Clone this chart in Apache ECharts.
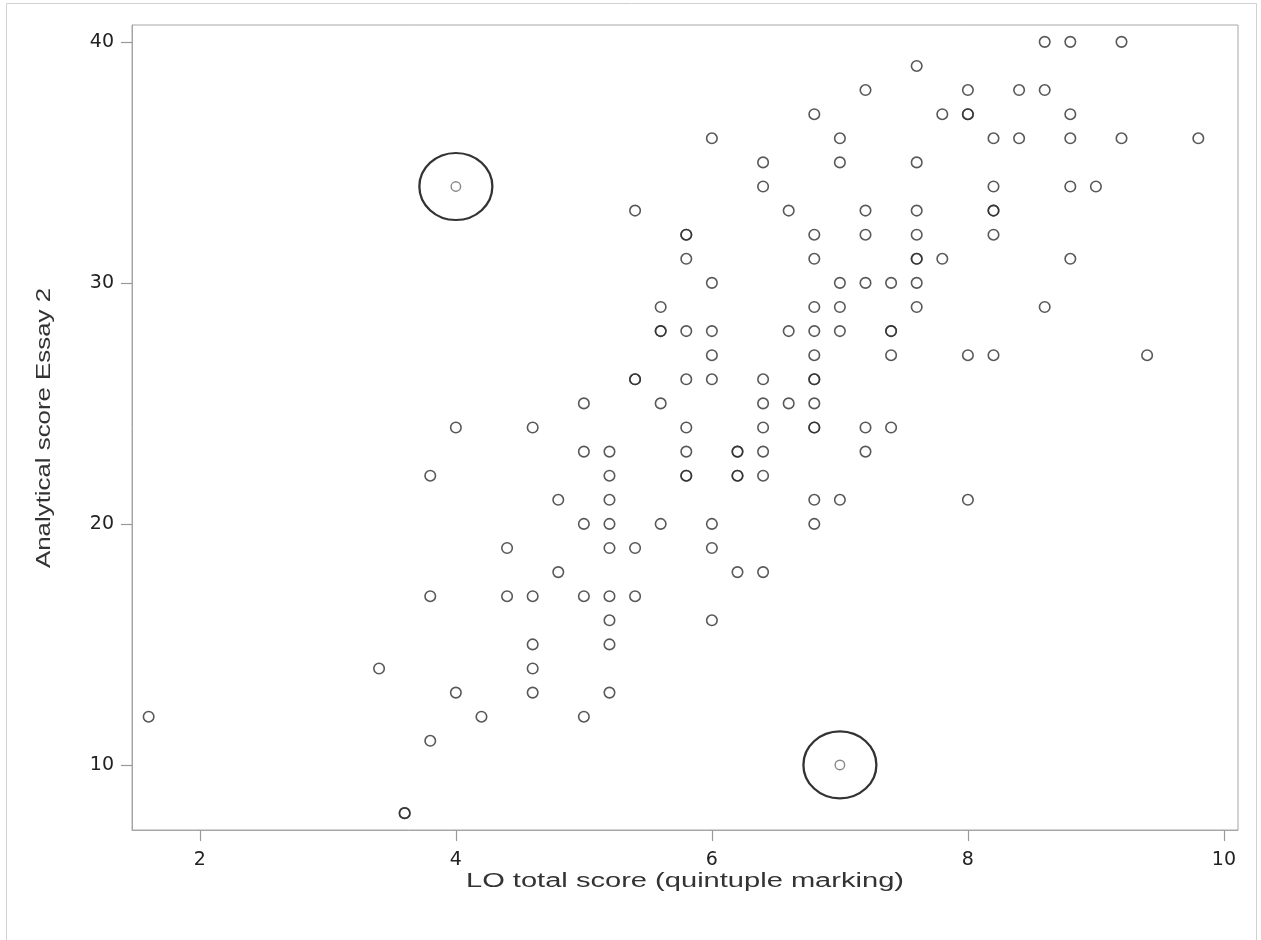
<!DOCTYPE html>
<html>
<head>
<meta charset="utf-8">
<script src="https://cdn.jsdelivr.net/npm/echarts@6/dist/echarts.min.js"></script>
<style>
html,body{margin:0;padding:0;background:#fff;}
#chart{width:1261px;height:940px;}
</style>
</head>
<body>
<div id="chart"></div>
<script>
// LO total score (quintuple marking) for each student
const loScore = [
  8.6, 8.8, 9.2,
  7.6,
  7.2, 8.0, 8.4, 8.6,
  6.8, 7.8, 8.0, 8.0, 8.8,
  6.0, 7.0, 8.2, 8.4, 8.8, 9.2, 9.8,
  6.4, 7.0, 7.6,
  4.0, 6.4, 8.2, 8.8, 9.0,
  5.4, 6.6, 7.2, 7.6, 8.2, 8.2,
  5.8, 5.8, 6.8, 7.2, 7.6, 8.2,
  5.8, 6.8, 7.6, 7.6, 7.8, 8.8,
  6.0, 7.0, 7.2, 7.4, 7.6,
  5.6, 6.8, 7.0, 7.6, 8.6,
  5.6, 5.6, 5.8, 6.0, 6.6, 6.8, 7.0, 7.4, 7.4,
  6.0, 6.8, 7.4, 8.0, 8.2, 9.4,
  5.4, 5.4, 5.8, 6.0, 6.4, 6.8, 6.8,
  5.0, 5.6, 6.4, 6.6, 6.8,
  4.0, 4.6, 5.8, 6.4, 6.8, 6.8, 7.2, 7.4,
  5.0, 5.2, 5.8, 6.2, 6.2, 6.4, 7.2,
  3.8, 5.2, 5.8, 5.8, 6.2, 6.2, 6.4,
  4.8, 5.2, 6.8, 7.0, 8.0,
  5.0, 5.2, 5.6, 6.0, 6.8,
  4.4, 5.2, 5.4, 6.0,
  4.8, 6.2, 6.4,
  3.8, 4.4, 4.6, 5.0, 5.2, 5.4,
  5.2, 6.0,
  4.6, 5.2,
  3.4, 4.6,
  4.0, 4.6, 5.2,
  1.6, 4.2, 5.0,
  3.8,
  7.0,
  3.6, 3.6
];
// Analytical score Essay 2 for the same students
const essayScore = [
  40, 40, 40,
  39,
  38, 38, 38, 38,
  37, 37, 37, 37, 37,
  36, 36, 36, 36, 36, 36, 36,
  35, 35, 35,
  34, 34, 34, 34, 34,
  33, 33, 33, 33, 33, 33,
  32, 32, 32, 32, 32, 32,
  31, 31, 31, 31, 31, 31,
  30, 30, 30, 30, 30,
  29, 29, 29, 29, 29,
  28, 28, 28, 28, 28, 28, 28, 28, 28,
  27, 27, 27, 27, 27, 27,
  26, 26, 26, 26, 26, 26, 26,
  25, 25, 25, 25, 25,
  24, 24, 24, 24, 24, 24, 24, 24,
  23, 23, 23, 23, 23, 23, 23,
  22, 22, 22, 22, 22, 22, 22,
  21, 21, 21, 21, 21,
  20, 20, 20, 20, 20,
  19, 19, 19, 19,
  18, 18, 18,
  17, 17, 17, 17, 17, 17,
  16, 16,
  15, 15,
  14, 14,
  13, 13, 13,
  12, 12, 12,
  11,
  10,
  8, 8
];
// Outlying students that are ringed in the figure
const outlierLo = [4.0, 7.0];
const outlierEssay = [34, 10];

const xTicks = [2, 4, 6, 8, 10];
const yTicks = [10, 20, 30, 40];
const xTitle = 'LO total score (quintuple marking)';
const yTitle = 'Analytical score Essay 2';

const isOutlier = (x, y) => outlierLo.some((v, i) => v === x && outlierEssay[i] === y);
const mainData = [];
const ringedData = [];
loScore.forEach((x, i) => {
  const y = essayScore[i];
  if (isOutlier(x, y)) ringedData.push([x, y]); else mainData.push([x, y]);
});
const ringData = outlierLo.map((x, i) => [x, outlierEssay[i]]);

// the reference uses a wide-set sans; stretch a standard sans to the same run length
const titleFont = '"Liberation Sans", Arial, sans-serif';
const titleSize = 20;
const ctx = document.createElement('canvas').getContext('2d');
ctx.font = titleSize + 'px ' + titleFont;
const xTitleScale = 438 / ctx.measureText(xTitle).width;
const yTitleScale = 280 / ctx.measureText(yTitle).width;

const chart = echarts.init(document.getElementById('chart'), null, {renderer: 'canvas'});
const axisGray = '#a6a6a6';
const tickFont = '"DejaVu Sans", "Liberation Sans", sans-serif';
chart.setOption({
  animation: false,
  backgroundColor: '#ffffff',
  graphic: [
    {
      type: 'rect',
      shape: {x: 6.5, y: 3.5, width: 1250, height: 940},
      style: {fill: 'none', stroke: '#d0d0d0', lineWidth: 1},
      silent: true
    },
    {
      type: 'text', x: 685, y: 881, scaleX: xTitleScale,
      style: {text: xTitle, font: titleSize + 'px ' + titleFont, fill: '#333',
              align: 'center', verticalAlign: 'middle'},
      silent: true
    },
    {
      type: 'text', x: 44, y: 428, rotation: Math.PI / 2, scaleX: yTitleScale,
      style: {text: yTitle, font: titleSize + 'px ' + titleFont, fill: '#333',
              align: 'center', verticalAlign: 'middle'},
      silent: true
    }
  ],
  grid: {
    left: 132, right: 23, top: 25, bottom: 110,
    show: true, borderColor: axisGray, borderWidth: 1, backgroundColor: '#fff'
  },
  xAxis: {
    type: 'value', min: 1.47, max: 10.11,
    splitLine: {show: false},
    axisLine: {show: true, onZero: false, lineStyle: {color: axisGray}},
    axisTick: {show: true, length: 11, customValues: xTicks, lineStyle: {color: '#999', width: 1.2}},
    axisLabel: {customValues: xTicks, fontFamily: tickFont, fontSize: 19, color: '#222', margin: 21}
  },
  yAxis: {
    type: 'value', min: 7.3, max: 40.7,
    splitLine: {show: false},
    axisLine: {show: true, onZero: false, lineStyle: {color: axisGray}},
    axisTick: {show: true, length: 11, customValues: yTicks, lineStyle: {color: '#999', width: 1.2}},
    axisLabel: {customValues: yTicks, fontFamily: tickFont, fontSize: 19, color: '#222', margin: 18}
  },
  series: [
    {
      type: 'scatter', name: 'students', data: mainData,
      symbol: 'circle', symbolSize: 10.5,
      itemStyle: {color: 'rgba(255,255,255,0)', borderColor: '#2e2e2e', borderWidth: 1.6}
    },
    {
      type: 'scatter', name: 'ringed students', data: ringedData,
      symbol: 'circle', symbolSize: 9.5,
      itemStyle: {color: 'rgba(255,255,255,0)', borderColor: '#6a6a6a', borderWidth: 1.4}
    },
    {
      type: 'scatter', name: 'rings', data: ringData,
      symbol: 'circle', symbolSize: [73, 67], silent: true,
      itemStyle: {color: 'rgba(255,255,255,0)', borderColor: '#000', borderWidth: 2.2}
    }
  ]
});
</script>
</body>
</html>
